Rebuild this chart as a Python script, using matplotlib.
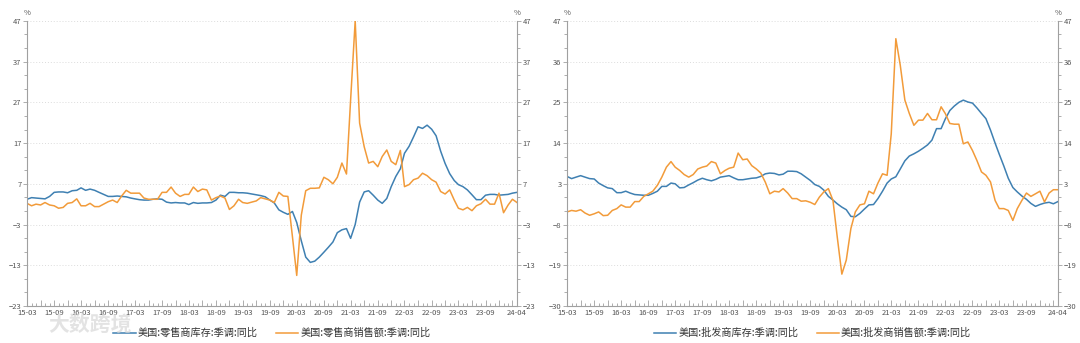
import matplotlib
matplotlib.use("Agg")
import matplotlib.pyplot as plt
import matplotlib.dates as mdates
from matplotlib.ticker import AutoMinorLocator, FixedLocator
import pandas as pd

plt.rcParams["font.family"] = ["Noto Sans CJK SC", "DejaVu Sans"]

months = pd.date_range("2015-03-01", "2024-04-01", freq="MS")

# 美国零售商 (YoY, %, seasonally adjusted)
retail_inventory = [
    3.2, 3.6, 3.5, 3.4, 3.3, 3.9, 4.9, 5.0, 5.0, 4.8,
    5.3, 5.4, 6.0, 5.4, 5.7, 5.4, 4.9, 4.4, 3.9, 3.9,
    4.0, 3.9, 3.8, 3.5, 3.3, 3.1, 3.0, 3.0, 3.2, 3.3,
    3.2, 2.5, 2.3, 2.4, 2.3, 2.3, 1.9, 2.4, 2.2, 2.3,
    2.3, 2.4, 3.0, 4.2, 3.9, 4.9, 4.9, 4.8, 4.8, 4.7,
    4.5, 4.3, 4.1, 3.8, 3.0, 2.3, 0.6, 0.0, -0.5, 0.2,
    -2.5, -7.0, -11.0, -12.3, -12.0, -11.0, -9.8, -8.6, -7.3, -5.0,
    -4.3, -4.0, -6.4, -3.0, 2.5, 5.0, 5.3, 4.2, 3.0, 2.2,
    3.4, 6.3, 8.8, 10.7, 14.5, 16.2, 18.5, 21.0, 20.6, 21.4,
    20.4, 18.8, 15.0, 12.0, 9.5, 7.8, 6.8, 6.3, 5.5, 4.3,
    3.1, 3.1, 4.2, 4.4, 4.4, 4.2, 4.3, 4.4, 4.7, 4.9,
]
retail_sales = [
    2.2, 1.6, 2.0, 1.8, 2.4, 1.8, 1.6, 1.0, 1.2, 2.2,
    2.4, 3.3, 1.6, 1.6, 2.2, 1.4, 1.4, 2.0, 2.6, 3.0,
    2.4, 4.0, 5.4, 4.7, 4.7, 4.7, 3.5, 3.2, 3.2, 3.2,
    4.9, 4.9, 6.2, 4.7, 3.9, 4.4, 4.4, 6.2, 5.1, 5.7,
    5.5, 3.0, 3.6, 4.0, 3.5, 0.7, 1.6, 3.2, 2.4, 2.2,
    2.5, 2.8, 3.6, 3.3, 3.0, 2.4, 4.9, 4.0, 3.9, -6.0,
    -15.5, -0.7, 5.3, 5.9, 5.9, 6.0, 8.6, 8.0, 7.0, 8.6,
    12.1, 9.4, 27.6, 47.0, 21.9, 16.1, 12.1, 12.5, 11.2, 13.7,
    15.3, 12.5, 11.7, 15.2, 6.3, 6.8, 8.0, 8.4, 9.6, 9.0,
    8.0, 7.4, 5.1, 4.5, 5.5, 3.0, 1.0, 0.6, 1.2, 0.4,
    1.6, 2.1, 3.2, 2.0, 2.0, 4.7, -0.1, 1.8, 3.2, 2.4,
]

# 美国批发商 (YoY, %, seasonally adjusted)
wholesale_inventory = [
    5.0, 4.4, 4.8, 5.2, 4.8, 4.4, 4.3, 3.2, 2.5, 1.9,
    1.7, 0.6, 0.6, 1.0, 0.5, 0.1, 0.0, -0.1, -0.1, 0.4,
    1.0, 2.3, 2.3, 3.2, 3.0, 1.9, 2.0, 2.7, 3.3, 4.0,
    4.5, 4.1, 3.8, 4.2, 4.8, 5.0, 5.2, 4.6, 4.1, 4.1,
    4.3, 4.5, 4.6, 5.0, 5.7, 5.9, 5.8, 5.4, 5.6, 6.4,
    6.4, 6.3, 5.7, 4.8, 3.9, 2.8, 2.3, 1.3, -0.4, -1.4,
    -2.4, -3.3, -4.0, -5.8, -5.9, -5.0, -3.8, -2.7, -2.6, -1.0,
    1.0, 3.2, 4.3, 4.9, 7.0, 9.2, 10.5, 11.1, 11.8, 12.6,
    13.5, 14.8, 17.9, 17.9, 20.5, 22.8, 24.0, 25.0, 25.6, 25.1,
    24.8, 23.5, 22.0, 20.6, 17.5, 14.0, 11.0, 7.8, 4.5, 2.0,
    0.8, -0.3, -1.2, -2.3, -3.1, -2.6, -2.2, -2.0, -2.4, -1.8,
]
wholesale_sales = [
    -4.6, -4.2, -4.4, -4.0, -4.9, -5.5, -5.1, -4.6, -5.6, -5.5,
    -4.2, -3.7, -2.7, -3.3, -3.3, -1.8, -1.8, -0.4, 0.3, 1.0,
    2.6, 4.8, 7.5, 9.0, 7.5, 6.6, 5.5, 4.8, 5.5, 7.0,
    7.5, 7.8, 9.0, 8.6, 5.7, 6.6, 7.2, 7.5, 11.3, 9.5,
    9.7, 7.9, 7.0, 5.9, 3.4, 0.3, 1.0, 0.8, 1.7, 0.5,
    -1.0, -1.0, -1.7, -1.6, -2.0, -2.6, -0.6, 0.8, 1.7, -1.5,
    -11.4, -21.4, -17.6, -9.1, -4.6, -2.7, -2.4, 1.0, 0.3, 3.2,
    5.7, 5.3, 16.5, 42.2, 35.0, 25.6, 22.0, 18.8, 20.2, 20.2,
    22.0, 20.3, 20.3, 23.8, 22.0, 19.3, 19.1, 19.1, 13.8, 14.3,
    12.0, 9.3, 6.2, 5.3, 3.5, -1.5, -3.7, -3.7, -4.2, -6.9,
    -3.7, -1.5, 0.5, -0.4, 0.3, 1.0, -1.9, 0.5, 1.4, 1.4,
]

retail_ticks = [47, 37, 27, 17, 7, -3, -13, -23]
wholesale_ticks = [47, 36, 25, 14, 3, -8, -19, -30]

BLUE = "#3f80b2"
ORANGE = "#f29b3a"
AXIS_GREY = "#a0a0a0"
TEXT_GREY = "#555555"


def style_axis(ax, yticks):
    ax.set_xlim(months[0], months[-1])
    ax.set_ylim(yticks[-1], yticks[0])
    ax.set_yticks(yticks)
    ax.yaxis.set_minor_locator(AutoMinorLocator(3))
    ax.yaxis.set_ticks_position("both")
    ax.tick_params(axis="y", which="both", labelleft=True, labelright=True,
                   colors=AXIS_GREY, labelcolor=TEXT_GREY, labelsize=5.5,
                   width=0.6, pad=1)
    ax.tick_params(axis="y", which="major", length=3)
    ax.tick_params(axis="y", which="minor", length=2)

    # x ticks: quarterly marks, labels every half year plus the last month
    quarter = list(months[::3]) + [months[-1]]
    labels = []
    for i, d in enumerate(quarter):
        if d == months[-1] or (i % 2 == 0 and d != months[-2]):
            labels.append(d.strftime("%y-%m"))
        else:
            labels.append("")
    ax.xaxis.set_major_locator(FixedLocator(mdates.date2num(quarter)))
    ax.set_xticklabels(labels)
    ax.xaxis.set_minor_locator(mdates.MonthLocator())
    ax.tick_params(axis="x", which="both", direction="in", colors=AXIS_GREY,
                   labelcolor=TEXT_GREY, labelsize=5.5, width=0.6, pad=2)
    ax.tick_params(axis="x", which="major", length=4)
    ax.tick_params(axis="x", which="minor", length=2)

    ax.grid(axis="y", which="major", linestyle=(0, (1, 2)), color="#dcdcdc",
            linewidth=0.7)
    for side in ("left", "right", "bottom"):
        ax.spines[side].set_color(AXIS_GREY)
        ax.spines[side].set_linewidth(0.8)
    ax.spines["top"].set_visible(False)
    ax.text(0, 1.015, "%", transform=ax.transAxes, ha="center", va="bottom",
            fontsize=5.5, color=TEXT_GREY)
    ax.text(1, 1.015, "%", transform=ax.transAxes, ha="center", va="bottom",
            fontsize=5.5, color=TEXT_GREY)


fig = plt.figure(figsize=(10.8, 3.43), dpi=100)
ax1 = fig.add_axes([0.025, 0.108, 0.4537, 0.831])
ax2 = fig.add_axes([0.525, 0.108, 0.4546, 0.831])

ax1.plot(months, retail_inventory, color=BLUE, lw=1.1, label="美国:零售商库存:季调:同比")
ax1.plot(months, retail_sales, color=ORANGE, lw=1.1, label="美国:零售商销售额:季调:同比")
style_axis(ax1, retail_ticks)

ax2.plot(months, wholesale_inventory, color=BLUE, lw=1.1, label="美国:批发商库存:季调:同比")
ax2.plot(months, wholesale_sales, color=ORANGE, lw=1.1, label="美国:批发商销售额:季调:同比")
style_axis(ax2, wholesale_ticks)

for ax in (ax1, ax2):
    ax.legend(loc="center", bbox_to_anchor=(0.5, -0.095), ncol=2,
              frameon=False, fontsize=7.3, handlelength=2.2, handletextpad=0.2,
              columnspacing=1.8, labelcolor="#333333", borderpad=0)

# faint site mark in the lower-left corner
fig.text(0.045, 0.055, "大数跨境", fontsize=15, color="#d8d8d8",
         alpha=0.7, ha="left", va="center", fontweight="bold")

fig.savefig("out.png", dpi=100)
